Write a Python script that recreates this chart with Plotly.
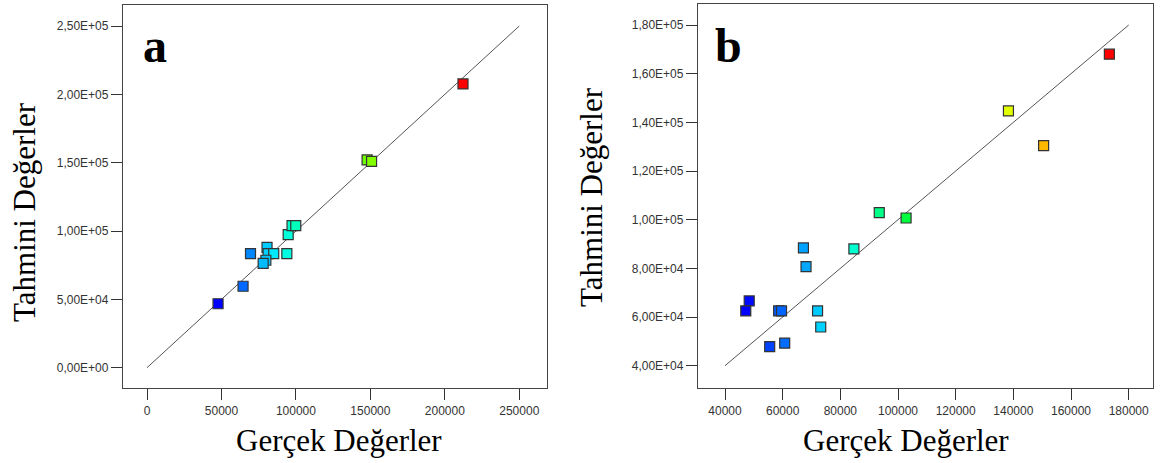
import plotly.graph_objects as go

# Panel a: actual vs predicted
a_actual = [47700, 64500, 69500, 80600, 81300, 85100, 79800, 78000, 93900, 94800, 97400, 99900,
            147800, 150800, 212200]
a_pred = [46800, 59600, 83400, 88100, 83400, 83400, 78600, 76400, 83400, 97300, 103900, 103900,
          152000, 151000, 207600]

# Panel b: actual vs predicted
b_actual = [48400, 47200, 58600, 59600, 72100, 73200, 55500, 60700, 67200, 68100, 84700, 93500,
            102800, 138300, 150500, 173300]
b_pred = [66600, 62500, 62500, 62500, 62500, 55900, 47800, 49300, 88400, 80700, 88000, 102900,
          100700, 144700, 130400, 168000]

a_line = [0, 250000]
b_line = [40000, 180000]

a_xticks = [0, 50000, 100000, 150000, 200000, 250000]
a_yticks = [0, 50000, 100000, 150000, 200000, 250000]
a_yticktext = ["0,00E+00", "5,00E+04", "1,00E+05", "1,50E+05", "2,00E+05", "2,50E+05"]

b_xticks = [40000, 60000, 80000, 100000, 120000, 140000, 160000, 180000]
b_yticks = [40000, 60000, 80000, 100000, 120000, 140000, 160000, 180000]
b_yticktext = ["4,00E+04", "6,00E+04", "8,00E+04", "1,00E+05", "1,20E+05", "1,40E+05",
               "1,60E+05", "1,80E+05"]

colorscale = [[0.0, "#0000FF"], [0.25, "#00FFFF"], [0.5, "#00FF00"], [0.75, "#FFFF00"], [1.0, "#FF0000"]]

W, H = 1163, 463

fig = go.Figure()

fig.add_trace(go.Scatter(x=a_line, y=a_line, mode="lines", line=dict(color="#555555", width=1),
                         xaxis="x", yaxis="y", hoverinfo="skip"))
fig.add_trace(go.Scatter(x=a_actual, y=a_pred, mode="markers", xaxis="x", yaxis="y",
                         marker=dict(symbol="square", size=10, color=a_actual, colorscale=colorscale,
                                     cmin=min(a_actual), cmax=max(a_actual),
                                     line=dict(color="#333333", width=1.2))))

fig.add_trace(go.Scatter(x=b_line, y=b_line, mode="lines", line=dict(color="#555555", width=1),
                         xaxis="x2", yaxis="y2", hoverinfo="skip"))
fig.add_trace(go.Scatter(x=b_actual, y=b_pred, mode="markers", xaxis="x2", yaxis="y2",
                         marker=dict(symbol="square", size=10, color=b_actual, colorscale=colorscale,
                                     cmin=min(b_actual), cmax=max(b_actual),
                                     line=dict(color="#333333", width=1.2))))

tickfont = dict(family="Liberation Sans, Arial, sans-serif", size=12, color="#333333")
axis_common = dict(showgrid=False, zeroline=False, showline=True, mirror=True,
                   linecolor="#444444", linewidth=1.3, ticks="outside", ticklen=11,
                   tickcolor="#333333", tickwidth=1, tickfont=tickfont)

fig.update_layout(
    width=W, height=H,
    margin=dict(l=0, r=0, t=0, b=0),
    paper_bgcolor="white", plot_bgcolor="white",
    showlegend=False,
    xaxis=dict(domain=[123 / W, 547 / W], range=[-16129, 268615], anchor="y",
               tickvals=a_xticks, ticktext=[str(v) for v in a_xticks], **axis_common),
    yaxis=dict(domain=[75 / H, 458 / H], range=[-14852, 265364], anchor="x",
               tickvals=a_yticks, ticktext=a_yticktext, **axis_common),
    xaxis2=dict(domain=[698 / W, 1153 / W], range=[30636, 188431], anchor="y2",
                tickvals=b_xticks, ticktext=[str(v) for v in b_xticks], **axis_common),
    yaxis2=dict(domain=[75 / H, 459.5 / H], range=[30836, 188835], anchor="x2",
                tickvals=b_yticks, ticktext=b_yticktext, **axis_common),
)

serif = "Liberation Serif, Times New Roman, serif"
title_font = dict(family=serif, size=31, color="black")
annotations = [
    dict(text="<b>a</b>", x=155 / W, y=1 - 45 / H, font=dict(family=serif, size=48, color="black")),
    dict(text="<b>b</b>", x=728 / W, y=1 - 45 / H, font=dict(family=serif, size=48, color="black")),
    dict(text="Gerçek Değerler", x=339 / W, y=1 - 440 / H, font=title_font),
    dict(text="Gerçek Değerler", x=906 / W, y=1 - 440 / H, font=title_font),
    dict(text="Tahmini Değerler", x=24 / W, y=1 - 212 / H, textangle=-90, font=title_font),
    dict(text="Tahmini Değerler", x=592 / W, y=1 - 197 / H, textangle=-90, font=title_font),
]
for a in annotations:
    a.update(xref="paper", yref="paper", showarrow=False, xanchor="center", yanchor="middle")
fig.update_layout(annotations=annotations)

fig.write_html("out.html")
